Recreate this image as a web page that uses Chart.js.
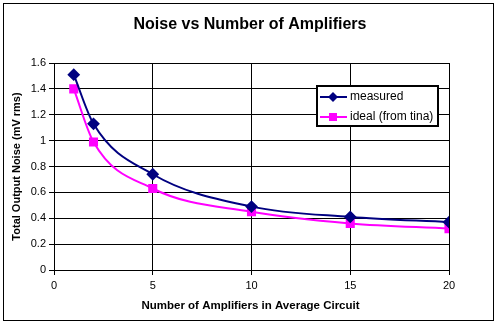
<!DOCTYPE html>
<html><head><meta charset="utf-8">
<script src="https://cdn.jsdelivr.net/npm/chart.js@4/dist/chart.umd.min.js"></script>
<style>html,body{margin:0;padding:0;background:#fff}#wrap{width:500px;height:325px}</style>
</head><body><div id="wrap"><canvas id="c" width="500" height="325"></canvas></div>
<script>
const amplifiers = [1, 2, 5, 10, 15, 20];
const measured = [1.51, 1.13, 0.74, 0.49, 0.41, 0.37];
const ideal = [1.40, 0.99, 0.63, 0.45, 0.36, 0.32];
const seriesLabels = ['measured', 'ideal (from tina)'];
const titleText = 'Noise vs Number of Amplifiers';
const xTitle = 'Number of Amplifiers in Average Circuit';
const yTitle = 'Total Output Noise (mV rms)';

const FONT = '"Liberation Sans", Arial, sans-serif';
const pts = (ys) => amplifiers.map((x, i) => ({x, y: ys[i]}));

const frame = {
  id: 'frame',
  beforeDraw(chart) {
    const ctx = chart.ctx;
    ctx.save();
    ctx.fillStyle = '#fff';
    ctx.fillRect(0, 0, 500, 325);
    ctx.strokeStyle = '#000';
    ctx.lineWidth = 1;
    ctx.strokeRect(3.5, 3.5, 490, 317);
    ctx.font = 'bold 16px ' + FONT;
    ctx.fillStyle = '#000';
    ctx.textAlign = 'center';
    ctx.textBaseline = 'middle';
    ctx.fillText(titleText, 250, 25);
    ctx.font = 'bold 11.5px ' + FONT;
    ctx.fillText(xTitle, 250.5, 306);
    ctx.restore();
  },
  afterDraw(chart) {
    const ctx = chart.ctx;
    ctx.save();
    const L = 317, T = 86, W = 121, H = 40;
    ctx.fillStyle = '#fff';
    ctx.fillRect(L, T, W, H);
    ctx.strokeStyle = '#000';
    ctx.lineWidth = 2;
    ctx.strokeRect(L, T, W, H);
    ctx.font = '12px ' + FONT;
    ctx.textBaseline = 'middle';
    ctx.textAlign = 'left';
    chart.data.datasets.forEach((ds, i) => {
      const y = T + 11 + i * 20;
      ctx.strokeStyle = ds.borderColor;
      ctx.lineWidth = 2;
      ctx.beginPath(); ctx.moveTo(L + 3, y); ctx.lineTo(L + 30, y); ctx.stroke();
      ctx.fillStyle = ds.pointBackgroundColor;
      if (ds.pointStyle === 'rectRot') {
        ctx.beginPath();
        ctx.moveTo(L + 16, y - 5); ctx.lineTo(L + 21, y); ctx.lineTo(L + 16, y + 5); ctx.lineTo(L + 11, y);
        ctx.closePath(); ctx.fill();
      } else {
        ctx.fillRect(L + 12, y - 4, 8, 8);
      }
      ctx.fillStyle = '#000';
      ctx.fillText(ds.label, L + 33, y);
    });
    ctx.restore();
  }
};

new Chart(document.getElementById('c'), {
  type: 'scatter',
  data: {
    datasets: [
      { label: seriesLabels[0], data: pts(measured), showLine: true, borderColor: '#000080',
        backgroundColor: '#000080', pointBackgroundColor: '#000080', pointBorderColor: '#000080',
        pointStyle: 'rectRot', pointRadius: 5, borderWidth: 2, cubicInterpolationMode: 'monotone' },
      { label: seriesLabels[1], data: pts(ideal), showLine: true, borderColor: '#FF00FF',
        backgroundColor: '#FF00FF', pointBackgroundColor: '#FF00FF', pointBorderColor: '#FF00FF',
        pointStyle: 'rect', pointRadius: 5, borderWidth: 2, cubicInterpolationMode: 'monotone' }
    ]
  },
  options: {
    responsive: false, animation: false, devicePixelRatio: 1,
    layout: { padding: { left: 6, right: 51, top: 63, bottom: 0 } },
    plugins: { legend: { display: false }, title: { display: false }, tooltip: { enabled: false } },
    scales: {
      x: {
        type: 'linear', min: 0, max: 20,
        ticks: { stepSize: 5, color: '#000', font: { family: FONT, size: 11 }, padding: 4, maxRotation: 0 },
        grid: { color: '#000', tickLength: 5, lineWidth: 1 },
        border: { color: '#000' },
        title: { display: false },
        afterFit(s) { s.height = 55; }
      },
      y: {
        type: 'linear', min: 0, max: 1.6,
        ticks: { stepSize: 0.2, color: '#000', font: { family: FONT, size: 11 }, padding: 3,
          callback: (v) => String(Number(v.toFixed(1))) },
        grid: { color: '#000', tickLength: 5, lineWidth: 1 },
        border: { color: '#000' },
        title: { display: true, text: yTitle, color: '#000', font: { family: FONT, size: 11, weight: 'bold' }, padding: { bottom: 4 } },
        afterFit(s) { s.width = 48; }
      }
    }
  },
  plugins: [frame]
});
</script></body></html>
